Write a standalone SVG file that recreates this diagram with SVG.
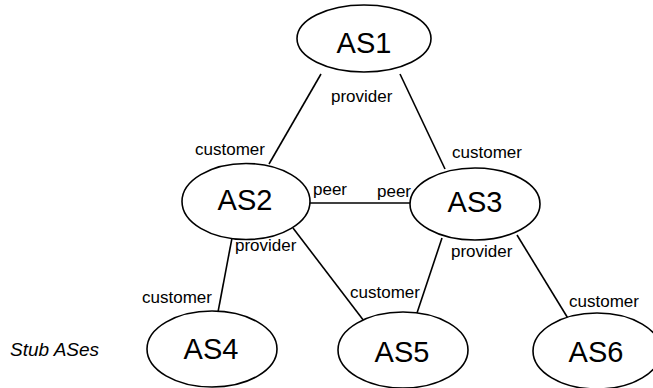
<svg xmlns="http://www.w3.org/2000/svg" width="653" height="388" viewBox="0 0 653 388">
  <style>
    .node ellipse { fill: #ffffff; stroke: #000000; stroke-width: 1.6; }
    .name { font-family: "Liberation Sans", Arial, sans-serif; font-size: 29px; fill: #000000; text-anchor: middle; }
    .lbl { font-family: "Liberation Sans", Arial, sans-serif; font-size: 17px; fill: #000000; }
    .edges line { stroke: #000000; stroke-width: 1.6; }
    .stub { font-family: "Liberation Sans", Arial, sans-serif; font-size: 19px; font-style: italic; fill: #000000; }
  </style>
  <rect width="653" height="388" fill="#ffffff"/>

  <!-- links between autonomous systems -->
  <g id="edges" class="edges">
    <line x1="321" y1="74" x2="269" y2="164"/>
    <line x1="400" y1="74" x2="445" y2="169"/>
    <line x1="310" y1="203" x2="410" y2="203"/>
    <line x1="232" y1="238" x2="218" y2="312"/>
    <line x1="293" y1="228" x2="364" y2="321"/>
    <line x1="442" y1="238" x2="417" y2="313"/>
    <line x1="517" y1="235" x2="569" y2="320"/>
  </g>

  <g id="AS1" class="node">
    <ellipse cx="364" cy="38.5" rx="67" ry="33.5"/>
    <text class="name" x="364" y="53">AS1</text>
  </g>
  <g id="AS2" class="node">
    <ellipse cx="246" cy="201.5" rx="64" ry="38"/>
    <text class="name" x="245" y="210">AS2</text>
  </g>
  <g id="AS3" class="node">
    <ellipse cx="475" cy="204" rx="65" ry="36"/>
    <text class="name" x="475" y="212">AS3</text>
  </g>
  <g id="AS4" class="node">
    <ellipse cx="212" cy="349" rx="65" ry="38"/>
    <text class="name" x="211" y="359">AS4</text>
  </g>
  <g id="AS5" class="node">
    <ellipse cx="403" cy="350" rx="65" ry="38"/>
    <text class="name" x="402" y="362">AS5</text>
  </g>
  <g id="AS6" class="node">
    <ellipse cx="597" cy="351" rx="64" ry="38"/>
    <text class="name" x="596" y="362">AS6</text>
  </g>

  <!-- relationship labels -->
  <g id="labels">
    <text class="lbl" x="331" y="102">provider</text>
    <text class="lbl" x="195" y="155">customer</text>
    <text class="lbl" x="452" y="158">customer</text>
    <text class="lbl" x="313" y="195">peer</text>
    <text class="lbl" x="377" y="197">peer</text>
    <text class="lbl" x="235" y="251">provider</text>
    <text class="lbl" x="451" y="257">provider</text>
    <text class="lbl" x="142" y="303">customer</text>
    <text class="lbl" x="350" y="298">customer</text>
    <text class="lbl" x="569" y="307">customer</text>
  </g>

  <text id="stub-label" class="stub" x="10" y="356">Stub ASes</text>
</svg>
